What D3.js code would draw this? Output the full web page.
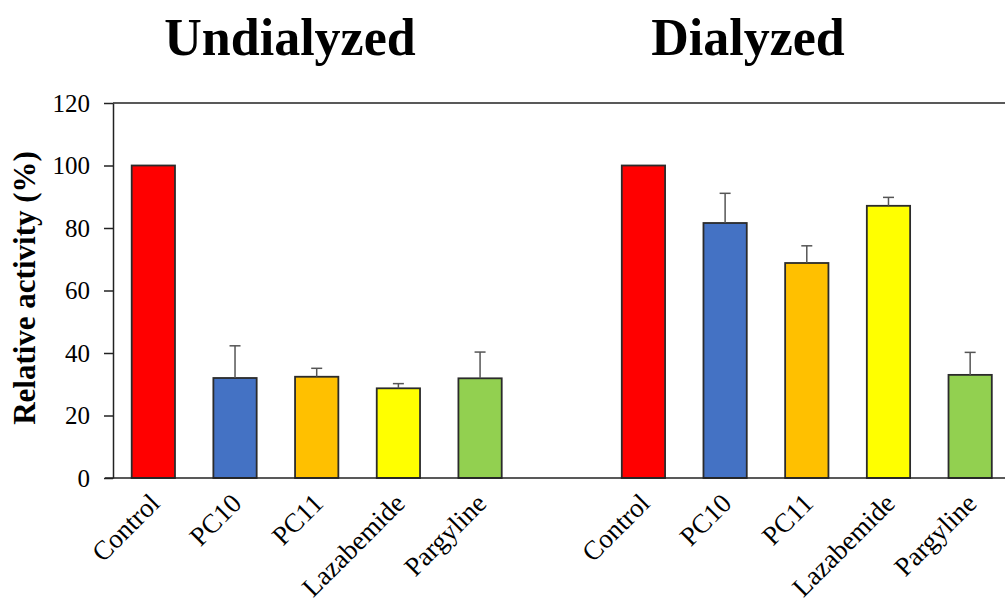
<!DOCTYPE html>
<html>
<head>
<meta charset="utf-8">
<script src="https://cdn.jsdelivr.net/npm/d3@7"></script>
<style>
  body { margin: 0; background: #fff; }
  text { font-family: "Liberation Serif", "Times New Roman", serif; fill: #000; }
</style>
</head>
<body>
<div id="content"></div>
<script>
// data
var groups = ["Undialyzed", "Dialyzed"];
var drugs = ["Control", "PC10", "PC11", "Lazabemide", "Pargyline"];
var drugColors = ["#ff0000", "#4472c4", "#ffc000", "#ffff00", "#92d050"];
var undialyzedValues = [100, 32, 32.4, 28.7, 31.9];
var undialyzedErrors = [0, 10.3, 2.7, 1.5, 8.4];
var dialyzedValues = [100, 81.6, 68.8, 87.1, 33];
var dialyzedErrors = [0, 9.5, 5.5, 2.7, 7.2];
var yTicks = [0, 20, 40, 60, 80, 100, 120];

var W = 1005, H = 605;
var svg = d3.select("#content").append("svg")
    .attr("width", W)
    .attr("height", H);

//build rows
var rows = [];
var seriesVals = [undialyzedValues, dialyzedValues];
var seriesErr = [undialyzedErrors, dialyzedErrors];
var domain = [];
groups.forEach(function(g, gi){
  if (gi > 0) domain.push("gap" + gi);
  drugs.forEach(function(d, i){
    var key = g + "|" + d;
    domain.push(key);
    rows.push({key: key, group: g, drug: d, value: seriesVals[gi][i], err: seriesErr[gi][i], color: drugColors[i]});
  });
});

var x = d3.scaleBand()
    .domain(domain)
    .range([112.5, 1011])
    .paddingInner(0.47)
    .paddingOuter(0.235);

var y = d3.scaleLinear()
    .domain([0, 120])
    .range([478, 103]);

//plot frame top line
svg.append("line")
    .attr("x1", 113).attr("x2", W)
    .attr("y1", y(120)).attr("y2", y(120))
    .attr("stroke", "#222").attr("stroke-width", 1.5);

//Bars
svg.selectAll("rect.bar").data(rows).enter().append("rect")
    .attr("class", "bar")
    .attr("x", function(d){ return x(d.key); })
    .attr("y", function(d){ return y(d.value); })
    .attr("width", x.bandwidth())
    .attr("height", function(d){ return y(0) - y(d.value); })
    .attr("fill", function(d){ return d.color; })
    .attr("stroke", "#2b2b2b")
    .attr("stroke-width", 1.8);

//Error bars (upper only)
var eb = svg.selectAll("g.err").data(rows.filter(function(d){ return d.err > 0; })).enter().append("g")
    .attr("class", "err")
    .attr("stroke", "#555")
    .attr("stroke-width", 1.5);
eb.append("line")
    .attr("x1", function(d){ return x(d.key) + x.bandwidth() / 2; })
    .attr("x2", function(d){ return x(d.key) + x.bandwidth() / 2; })
    .attr("y1", function(d){ return y(d.value); })
    .attr("y2", function(d){ return y(d.value + d.err); });
eb.append("line")
    .attr("x1", function(d){ return x(d.key) + x.bandwidth() / 2 - 5.5; })
    .attr("x2", function(d){ return x(d.key) + x.bandwidth() / 2 + 5.5; })
    .attr("y1", function(d){ return y(d.value + d.err); })
    .attr("y2", function(d){ return y(d.value + d.err); });

//Y axis
var yAxis = svg.append("g")
    .attr("transform", "translate(113,0)")
    .call(d3.axisLeft(y).tickValues(yTicks).tickSize(9).tickPadding(14).tickSizeOuter(0));
yAxis.select(".domain").attr("stroke", "#222").attr("stroke-width", 1.5);
yAxis.selectAll(".tick line").attr("stroke", "#222").attr("stroke-width", 1.5);
yAxis.selectAll(".tick text")
    .style("font-family", "'Liberation Serif', serif")
    .style("font-size", "25px")
    .attr("fill", "#000");

//X axis line
svg.append("line")
    .attr("x1", 105).attr("x2", W)
    .attr("y1", y(0)).attr("y2", y(0))
    .attr("stroke", "#222").attr("stroke-width", 1.5);

//X labels
svg.selectAll("text.xlab").data(rows).enter().append("text")
    .attr("class", "xlab")
    .attr("transform", function(d){
      return "translate(" + (x(d.key) + x.bandwidth() / 2 + 8) + "," + (y(0) + 27) + ") rotate(-45)";
    })
    .attr("text-anchor", "end")
    .style("font-size", "27px")
    .text(function(d){ return d.drug; });

//Y title
svg.append("text")
    .attr("transform", "translate(35,288) rotate(-90)")
    .attr("text-anchor", "middle")
    .style("font-size", "31px")
    .style("font-weight", "bold")
    .text("Relative activity (%)");

//Group titles
var titleX = [290, 748];
svg.selectAll("text.title").data(groups).enter().append("text")
    .attr("class", "title")
    .attr("x", function(d, i){ return titleX[i]; })
    .attr("y", 55)
    .attr("text-anchor", "middle")
    .style("font-size", "52px")
    .style("font-weight", "bold")
    .text(function(d){ return d; });
</script>
</body>
</html>
